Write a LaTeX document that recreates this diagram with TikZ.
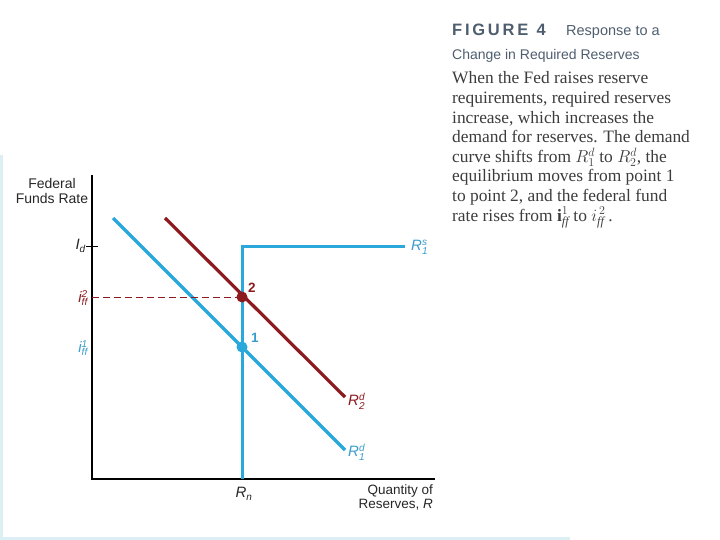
\documentclass[tikz,border=0pt]{standalone}
\usepackage{fontspec}
\setmainfont{Liberation Serif}
\setsansfont{Liberation Sans}
\usetikzlibrary{calc}
\definecolor{sblue}{HTML}{2AA8DC}
\definecolor{lblue}{HTML}{3A9CCB}
\definecolor{dred}{HTML}{8C1A1E}
\definecolor{framec}{HTML}{DCEFF5}
\definecolor{titlec}{HTML}{4E5E6E}
\definecolor{capgray}{HTML}{3C3C3C}
\newcommand\lblss[3]{#1\ensuremath{^{\mbox{\fontsize{10}{11}\selectfont #2}}_{\mbox{\fontsize{10}{11}\selectfont #3}}}}
\begin{document}
\begin{tikzpicture}[x=1pt,y=-1pt,
  axis/.style={black, line width=1.2pt},
  supply/.style={sblue, line width=3pt},
  dem1/.style={sblue, line width=3.2pt},
  dem2/.style={dred, line width=3.2pt},
  dot/.style={circle, inner sep=0pt, minimum size=11pt},
  lab/.style={font=\sffamily\fontsize{13.5}{15}\selectfont, inner sep=0pt},
  ilab/.style={font=\sffamily\itshape\fontsize{15}{17}\selectfont, inner sep=0pt},
  capline/.style={anchor=base west, inner sep=0pt, text=capgray, font=\rmfamily\fontsize{17.4}{19}\selectfont}
]
\useasboundingbox (0,0) rectangle (720,540);
% light frame
\coordinate (F1) at (1.5,155);
\coordinate (F2) at (1.5,538.5);
\coordinate (F3) at (570,538.5);
\draw[framec, line width=2.5pt] (F1) -- (F2) -- (F3);
% axes
\coordinate (Ytop) at (92,175);
\coordinate (O) at (92,479);
\coordinate (Xend) at (435,479);
\draw[axis] (Ytop) -- (O) -- (Xend);
% tick at i_d
\coordinate (T1) at (86,246);
\coordinate (T2) at (98,246);
\draw[black, line width=0.8pt] (T1) -- (T2);
% supply curve
\coordinate (S0) at (242,479);
\coordinate (S1) at (242,246);
\coordinate (S2) at (405,246);
\draw[supply] (S0) -- (S1) -- (S2);
% demand curves
\coordinate (D1a) at (113,218);
\coordinate (D1b) at (345,450);
\draw[dem1] (D1a) -- (D1b);
\coordinate (D2a) at (165,218);
\coordinate (D2b) at (345,397);
\draw[dem2] (D2a) -- (D2b);
% points
\coordinate (Y2) at (92,297);
\node[dot, fill=dred] (p2) at (242,297) {};
\node[dot, fill=sblue] (p1) at (242,347) {};
\draw[dred, dashed, dash pattern=on 7pt off 4pt, line width=0.9pt] (Y2) -- (p2.center);
\node[lab, text=dred, font=\sffamily\bfseries\fontsize{13.5}{15}\selectfont] (n2) at (252,288) {2};
\node[lab, text=lblue, font=\sffamily\bfseries\fontsize{13.5}{15}\selectfont] (n1) at (255,338) {1};
% axis labels
\node[lab, align=center, text=black!85, font=\sffamily\fontsize{14}{16}\selectfont] (ylab) at (52,191) {Federal\\[-1pt]Funds Rate};
\node[ilab, text=black!85, anchor=east] (id) at (86,246) {\lblss{I}{}{d}};
\node[ilab, text=dred, anchor=east] (iff2) at (88,298) {\lblss{i}{2}{ff}};
\node[ilab, text=lblue, anchor=east] (iff1) at (88,348) {\lblss{i}{1}{ff}};
\node[ilab, text=lblue, anchor=west] (r1s) at (411,247) {\lblss{R}{s}{1}};
\node[ilab, text=dred, anchor=west] (r2d) at (348,401) {\lblss{R}{d}{2}};
\node[ilab, text=lblue, anchor=west] (r1d) at (348,452) {\lblss{R}{d}{1}};
\node[ilab, text=black!85] (rn) at (244,494) {\lblss{R}{}{n}};
\node[lab, align=right, anchor=north east, text=black!85] (xlab) at (433,485) {Quantity of\\[-1pt]Reserves, \textit{R}};
% caption
\node[anchor=base west, inner sep=0pt, text=titlec, font=\sffamily\bfseries\fontsize{16.5}{18}\selectfont] (fig) at (452,36) {F\,I\,G\,U\,R\,E\enspace 4};
\node[anchor=base west, inner sep=0pt, text=titlec, font=\sffamily\fontsize{14.5}{17}\selectfont] (resp) at (566,36) {Response to a};
\node[anchor=base west, inner sep=0pt, text=titlec, font=\sffamily\fontsize{14}{17}\selectfont] (chg) at (452,59.5) {Change in Required Reserves};
\node[capline] (c1) at (452,84) {When the Fed raises reserve};
\node[capline] (c2) at (452,103.6) {requirements, required reserves};
\node[capline] (c3) at (452,123.2) {increase, which increases the};
\node[capline] (c4) at (452,142.8) {demand for reserves. The demand};
\node[capline] (c5) at (452,162.4) {curve shifts from $R^d_1$ to $R^d_2$, the};
\node[capline] (c6) at (452,182) {equilibrium moves from point 1};
\node[capline] (c7) at (452,201.6) {to point 2, and the federal fund};
\node[capline] (c8) at (452,221.2) {rate rises from \textbf{i}$^1_{\mathit{ff}}$ to $i^{\,2}_{\mathit{ff}}$\,.};
\end{tikzpicture}
\end{document}
